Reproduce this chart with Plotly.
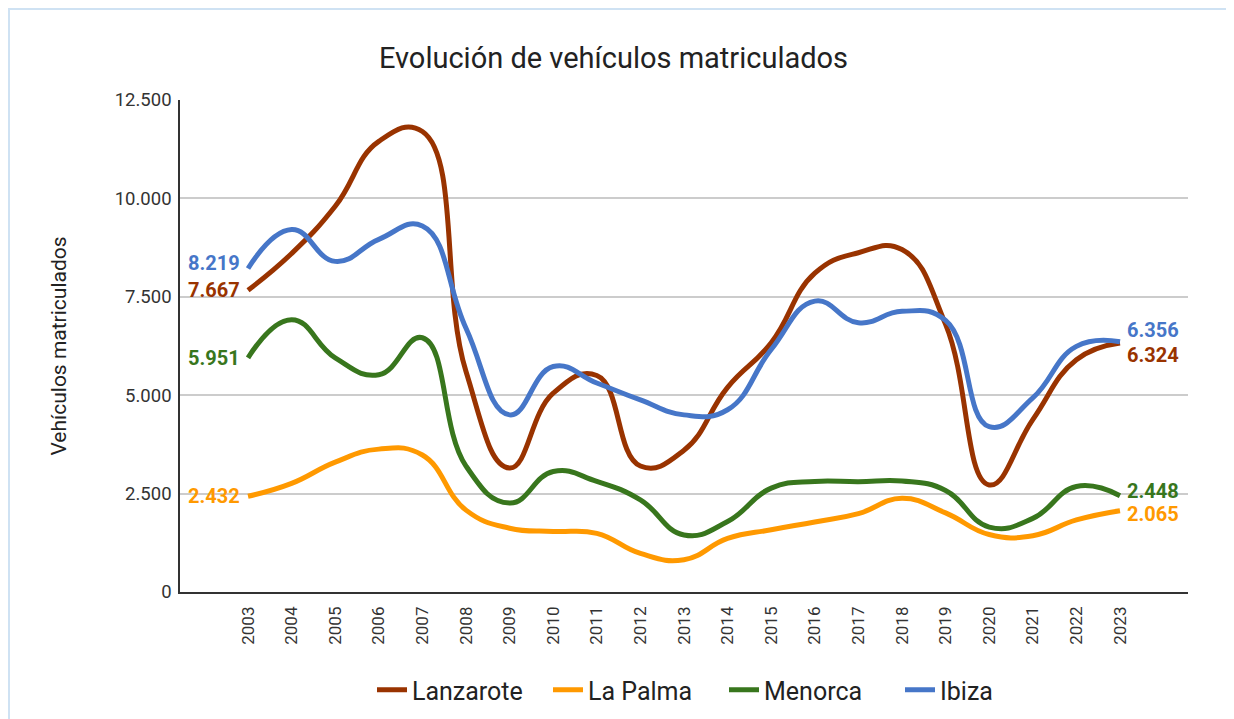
import plotly.graph_objects as go

years = [str(y) for y in range(2003, 2024)]
lanzarote = [7667, 8600, 9800, 11450, 11700, 5600, 3150, 5050, 5500, 3200, 3600, 5200, 6330, 8100, 8620, 8700, 6800, 2720, 4380, 5900, 6324]
la_palma = [2432, 2760, 3300, 3630, 3480, 2080, 1620, 1540, 1490, 980, 820, 1360, 1580, 1780, 1990, 2380, 2010, 1460, 1430, 1830, 2065]
menorca = [5951, 6920, 5950, 5520, 6460, 3200, 2260, 3060, 2810, 2340, 1450, 1790, 2640, 2810, 2800, 2820, 2580, 1650, 1870, 2680, 2448]
ibiza = [8219, 9210, 8400, 8960, 9300, 6700, 4500, 5730, 5310, 4880, 4500, 4630, 6160, 7390, 6840, 7130, 6900, 4200, 4930, 6240, 6356]

series = [
    ("Lanzarote", lanzarote, "#993300"),
    ("La Palma", la_palma, "#ff9900"),
    ("Menorca", menorca, "#38761d"),
    ("Ibiza", ibiza, "#4676c8"),
]
# vertical nudges of end labels (px) to avoid overlap
start_shift = {"Lanzarote": 0, "La Palma": 0, "Menorca": 0, "Ibiza": 6}
end_shift = {"Lanzarote": -11.5, "La Palma": -3, "Menorca": 5, "Ibiza": 11.5}

FONT = "Roboto"
W, H = 1234, 719
OFF = 8  # page body margin
L, R, T, B = 180 - OFF, W - (1188 - OFF), 100 - OFF, H - (592 - OFF)

def fmt(v):
    return f"{v:,}".replace(",", ".")

first_idx, last_idx = 0, len(years) - 1

fig = go.Figure()
annotations = []
for name, vals, col in series:
    fig.add_trace(go.Scatter(
        x=years, y=vals, name=name, mode="lines",
        line=dict(color=col, width=5, shape="spline", smoothing=1.3),
    ))
    annotations.append(dict(x=first_idx, y=vals[first_idx], text=fmt(vals[first_idx]), showarrow=False,
                            xanchor="right", yanchor="middle", xshift=-6, yshift=start_shift[name],
                            font=dict(family=FONT, size=20, color=col, weight="bold")))
    annotations.append(dict(x=last_idx, y=vals[last_idx], text=fmt(vals[last_idx]), showarrow=False,
                            xanchor="left", yanchor="middle", xshift=5, yshift=end_shift[name],
                            font=dict(family=FONT, size=20, color=col, weight="bold")))

pw, ph = W - L - R, H - T - B
fig.add_shape(type="rect", xref="paper", yref="paper",
              x0=(1 - L) / pw, x1=(1300 - L) / pw,
              y0=(H - B - 800) / ph, y1=1 + (T - 1) / ph,
              line=dict(color="#cfe2f3", width=2), fillcolor="rgba(0,0,0,0)", layer="below")

fig.update_layout(
    width=W, height=H,
    margin=dict(l=L, r=R, t=T, b=B),
    paper_bgcolor="white", plot_bgcolor="white",
    separators=",.",
    font=dict(family=FONT, color="#222222"),
    title=dict(text="Evolución de vehículos matriculados", x=(613.5 - OFF) / W, xref="container", xanchor="center",
               y=1 - (58 - OFF) / H, yref="container", yanchor="middle",
               font=dict(family=FONT, size=29, color="#222222")),
    xaxis=dict(type="category", range=[-1.56, 21.56], tickangle=-90, showgrid=False,
               showline=True, linecolor="#333333", linewidth=1.5, ticks="",
               tickfont=dict(family=FONT, size=17, color="#333333"), ticklabelstandoff=6),
    yaxis=dict(range=[0, 12500], tickvals=[0, 2500, 5000, 7500, 10000, 12500], tickformat=",.0f",
               showgrid=True, gridcolor="#cccccc", gridwidth=1.5, zeroline=False,
               showline=True, linecolor="#333333", linewidth=1.5, ticks="",
               tickfont=dict(family=FONT, size=18.5, color="#333333"), ticklabelstandoff=3,
               title=dict(text="Vehículos matriculados", standoff=42,
                          font=dict(family=FONT, size=21, color="#222222"))),
    legend=dict(orientation="h", x=0.5 + 40 / 1008, xanchor="center", xref="paper",
                y=1 - (690 - OFF) / H, yref="container", yanchor="middle",
                font=dict(family=FONT, size=25, color="#222222"), itemwidth=30, entrywidth=131),
    annotations=annotations,
    showlegend=True,
)

fig.write_html("out.html")
